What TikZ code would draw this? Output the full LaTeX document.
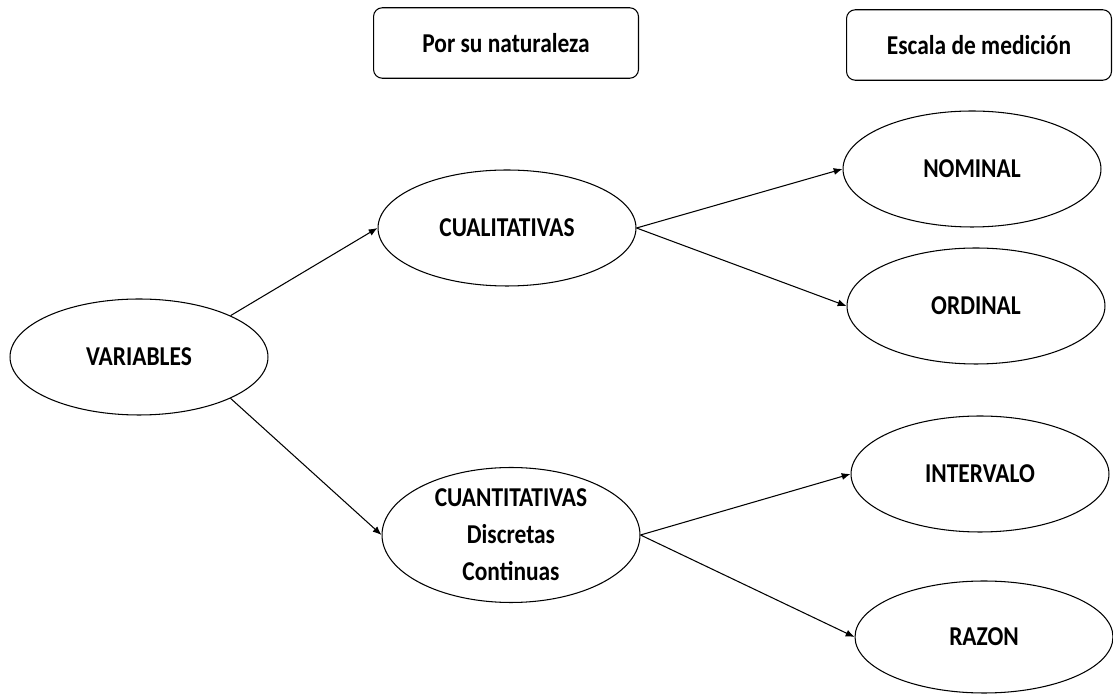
\documentclass[tikz,border=0pt]{standalone}
\usepackage{fontspec}
\setmainfont{Carlito}[FakeStretch=0.86]
\usepackage{tikz}
\usetikzlibrary{arrows.meta, shapes.geometric}

\begin{document}
\begin{tikzpicture}[x=0.02cm, y=-0.02cm,
    every node/.style={font=\fontsize{15.5}{20.5}\selectfont\bfseries, align=center, inner sep=0pt},
    oval/.style={draw, ellipse, line width=0.6pt, minimum width=5.16cm, minimum height=2.32cm},
    tag/.style={draw, rounded corners=5pt, line width=0.6pt, minimum width=5.3cm, minimum height=1.41cm},
    link/.style={line width=0.6pt, -{Latex[length=5pt, width=4pt]}}]
    \useasboundingbox (0,0) rectangle (1113,695);
    % titulos
    \node [tag] (nat) at (506,43) {Por su naturaleza};
    \node [tag] (esc) at (979,45) {Escala de medición};
    % variables
    \node [oval] (var) at (139,357) {VARIABLES};
    \node [oval] (cual) at (507,228) {CUALITATIVAS};
    \node [oval, minimum width=5.16cm, minimum height=2.7cm,
           font=\fontsize{15.5}{20.5}\selectfont\bfseries] (cuant) at (511,535)
          {CUANTITATIVAS\\[0.6pt]Discretas\\[0.6pt]Continuas};
    % escalas
    \node [oval] (nom) at (972,169) {NOMINAL};
    \node [oval] (ord) at (976,306) {ORDINAL};
    \node [oval] (int) at (980,474) {INTERVALO};
    \node [oval, minimum height=2.24cm] (raz) at (984,637) {RAZON};
    % flechas
    \draw [link] (var.north east) -- (cual.west);
    \draw [link] (var.south east) -- (cuant.west);
    \draw [link] (cual.east) -- (nom.west);
    \draw [link] (cual.east) -- (ord.west);
    \draw [link] (cuant.east) -- (int.west);
    \draw [link] (cuant.east) -- (raz.west);
\end{tikzpicture}
\end{document}
